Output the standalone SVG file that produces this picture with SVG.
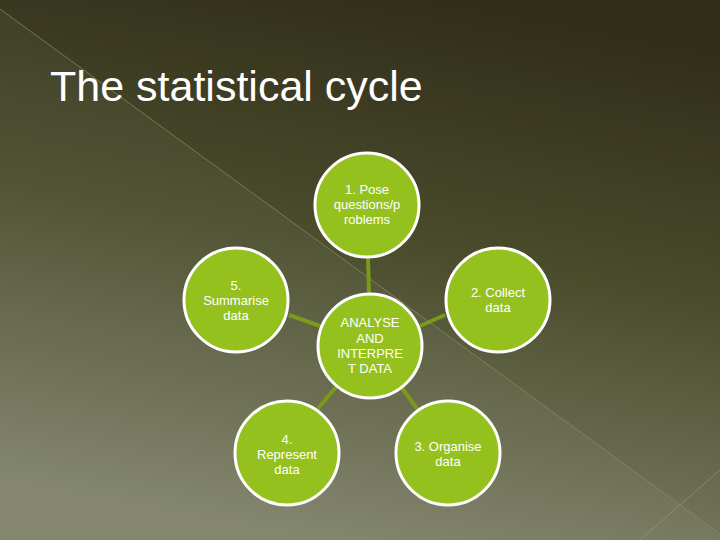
<svg xmlns="http://www.w3.org/2000/svg" width="720" height="540" viewBox="0 0 720 540">
<defs>
<linearGradient id="bg" x1="0.65" y1="0" x2="0.4" y2="1">
<stop offset="0" stop-color="#302d19"/>
<stop offset="0.45" stop-color="#4a4c2c"/>
<stop offset="1" stop-color="#80836a"/>
</linearGradient>
<style>
.n{fill:#95c11f;stroke:#ffffff;stroke-width:3}
.t{font-family:"Liberation Sans",Arial,sans-serif;font-size:13px;fill:#ffffff;text-anchor:middle}
.c{stroke:#7a9a1a;stroke-width:4}
</style>
</defs>
<rect width="720" height="540" fill="url(#bg)"/>
<path d="M0 9 L720 534 L720 540 L0 540 Z" fill="#ffffff" opacity="0.04"/>
<line x1="0" y1="9" x2="720" y2="534" stroke="#8c8e6a" stroke-width="1" opacity="0.7"/>
<line x1="640" y1="540" x2="720" y2="470" stroke="#9c9e84" stroke-width="1" opacity="0.6"/>
<text x="50" y="101" font-family="Liberation Sans,Arial,sans-serif" font-size="43" fill="#ffffff">The statistical cycle</text>
<g id="connectors">
<line class="c" x1="368" y1="258" x2="369" y2="294"/>
<line class="c" x1="289" y1="315" x2="320" y2="326"/>
<line class="c" x1="445" y1="315" x2="420" y2="326"/>
<line class="c" x1="337" y1="386" x2="315" y2="412"/>
<line class="c" x1="402" y1="388" x2="418" y2="410"/>
</g>
<g id="n1"><circle class="n" cx="367" cy="205" r="52"/><text class="t" x="367" y="194">1. Pose</text><text class="t" x="367" y="209">questions/p</text><text class="t" x="367" y="224">roblems</text></g>
<g id="n2"><circle class="n" cx="498" cy="300" r="52"/><text class="t" x="498" y="297">2. Collect</text><text class="t" x="498" y="312">data</text></g>
<g id="n3"><circle class="n" cx="448" cy="453" r="52"/><text class="t" x="448" y="451">3. Organise</text><text class="t" x="448" y="466">data</text></g>
<g id="n4"><circle class="n" cx="287" cy="453" r="52"/><text class="t" x="287" y="444">4.</text><text class="t" x="287" y="459">Represent</text><text class="t" x="287" y="474">data</text></g>
<g id="n5"><circle class="n" cx="236" cy="300" r="52"/><text class="t" x="236" y="290">5.</text><text class="t" x="236" y="305">Summarise</text><text class="t" x="236" y="320">data</text></g>
<g id="c"><circle class="n" cx="370" cy="346" r="52"/><text class="t" x="370" y="327">ANALYSE</text><text class="t" x="370" y="343">AND</text><text class="t" x="370" y="358">INTERPRE</text><text class="t" x="370" y="373">T DATA</text></g>
</svg>
